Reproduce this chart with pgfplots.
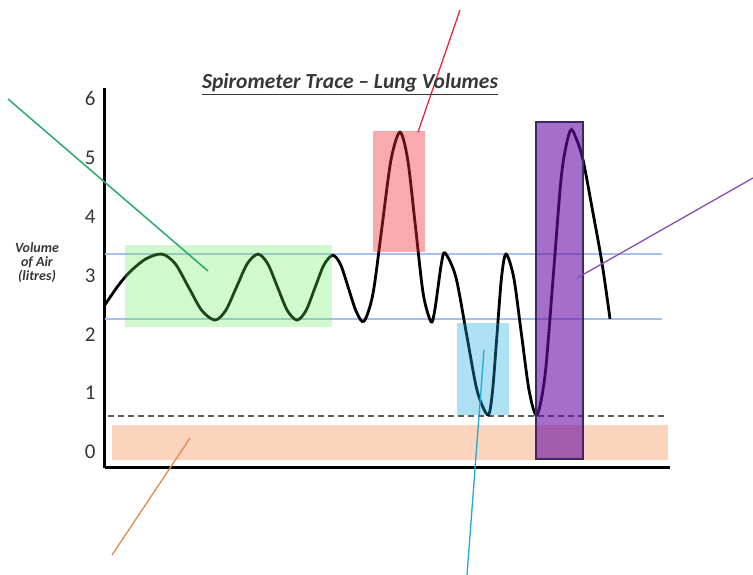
\documentclass[border=0pt]{standalone}
\usepackage{pgfplots}
\pgfplotsset{compat=1.18}
\usepackage{fontspec}
\setmainfont{Carlito}
\definecolor{hline}{RGB}{170,190,235}
\definecolor{dashc}{RGB}{95,95,95}
\definecolor{greenbox}{RGB}{100,235,90}
\definecolor{redbox}{RGB}{240,42,55}
\definecolor{bluebox}{RGB}{26,169,226}
\definecolor{purplebox}{RGB}{105,13,163}
\definecolor{purpleedge}{RGB}{60,40,100}
\definecolor{orangeband}{RGB}{250,212,188}
\definecolor{annGreen}{RGB}{40,170,110}
\definecolor{annRed}{RGB}{230,40,60}
\definecolor{annPurple}{RGB}{130,80,180}
\definecolor{annOrange}{RGB}{230,140,80}
\definecolor{annCyan}{RGB}{30,170,220}
\definecolor{labgray}{RGB}{55,55,55}
\begin{document}
\begin{tikzpicture}
\begin{axis}[
  scale only axis, width=565pt, height=380pt,
  xmin=105, xmax=670, ymin=-0.2716, ymax=6.180,
  axis x line=bottom, axis y line=left,
  axis line style={-, line width=3pt, black},
  xtick=\empty, ytick={0,1,2,3,4,5,6}, major tick length=0pt,
  /pgf/number format/assume math mode=true,
  yticklabel style={font=\fontsize{21}{24}\selectfont, text=labgray, xshift=-6pt},
  clip=false,
]
% reference lines
\addplot[hline, line width=1.5pt] coordinates {(105,3.362) (662,3.362)};
\addplot[hline, line width=1.5pt] coordinates {(105,2.258) (662,2.258)};
% orange band
\addplot[fill=orangeband, draw=none] coordinates {(112,0.458) (668,0.458) (668,-0.136) (112,-0.136)} -- cycle;
% dashed residual line
\addplot[dashc, line width=2.5pt, dash pattern=on 6pt off 4pt] coordinates {(108,0.611) (665,0.611)};
% spirometer trace
\addplot[black, line width=2.8pt, smooth] coordinates {
(105,2.50) (118,2.82) (130,3.06) (146,3.28) (162,3.36)
(175.25,3.196) (188.5,2.80) (201.75,2.404) (215,2.24)
(225.75,2.404) (236.5,2.80) (247.25,3.196) (258,3.36)
(267.75,3.196) (277.5,2.80) (287.25,2.404) (297,2.24)
(306,2.401) (315,2.79) (324,3.179) (333,3.34)
(340.75,3.176) (348.5,2.78) (356.25,2.384) (364,2.22)
(373,2.69) (382,3.825) (391,4.96) (400,5.43)
(407.75,4.958) (415.5,3.82) (423.25,2.682) (431,2.21)
(434.5,2.381) (438,2.795) (441.5,3.209) (445,3.38)
(455.75,2.977) (466.5,2.005) (477.25,1.033) (488,0.63)
(492.5,1.03) (497,1.995) (501.5,2.96) (506,3.36)
(513.75,2.96) (521.5,1.995) (529.25,1.03) (537,0.63)
(545.25,1.336) (553.5,3.04) (561.75,4.744) (570,5.45)
(576,5.33) (583,4.96) (592,4.15) (602,3.21) (610,2.26)};
% overlay boxes
\addplot[fill=greenbox, fill opacity=0.3, draw=none] coordinates {(125,3.514) (332,3.514) (332,2.122) (125,2.122)} -- cycle;
\addplot[fill=redbox, fill opacity=0.4, draw=none] coordinates {(373,5.450) (425,5.450) (425,3.396) (373,3.396)} -- cycle;
\addplot[fill=bluebox, fill opacity=0.35, draw=none] coordinates {(457,2.190) (509,2.190) (509,0.628) (457,0.628)} -- cycle;
\addplot[fill=purplebox, fill opacity=0.6, draw=purpleedge, line width=1.5pt] coordinates {(536,5.603) (583,5.603) (583,-0.119) (536,-0.119)} -- cycle;
% annotation lines
\addplot[annGreen, line width=1.5pt] coordinates {(8,5.993) (208,3.073)};
\addplot[annRed, line width=1.3pt] coordinates {(460,7.504) (418,5.433)};
\addplot[annPurple, line width=1.3pt] coordinates {(753,4.652) (577,2.954)};
\addplot[annOrange, line width=1.3pt] coordinates {(112,-1.749) (190,0.238)};
\addplot[annCyan, line width=1.3pt] coordinates {(467,-2.088) (484,1.732)};
% texts
\node[font=\fontsize{21.5}{24}\selectfont\bfseries\itshape, text=labgray] at (axis cs:350,6.248) {\underline{Spirometer Trace – Lung Volumes}};
\node[align=center, font=\fontsize{14}{14}\selectfont\bfseries\itshape, text=labgray] at (axis cs:37,3.21) {Volume\\of Air\\(litres)};
\coordinate (BL) at (axis cs:0,-2.088);
\coordinate (TR) at (axis cs:753,7.674);
\end{axis}
\pgfresetboundingbox
\path[use as bounding box] (BL) rectangle (TR);
\end{tikzpicture}
\end{document}
